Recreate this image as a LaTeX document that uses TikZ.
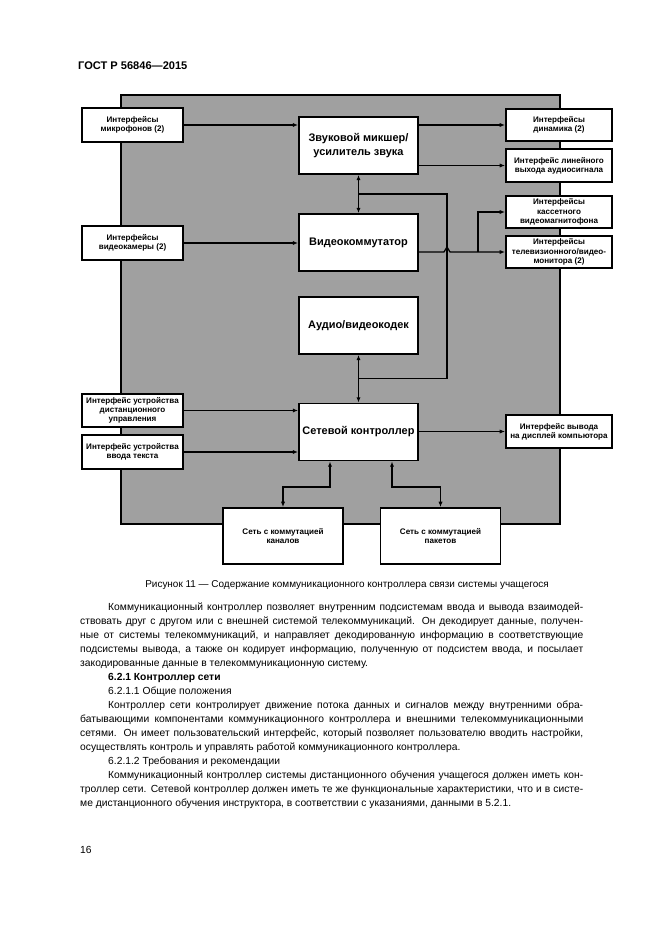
\documentclass[tikz,border=0pt]{standalone}
\usepackage{fontspec}
\setmainfont{Liberation Sans}
\usetikzlibrary{arrows,arrows.meta}
\usetikzlibrary{calc}
\definecolor{grund}{RGB}{160,160,160}

\begin{document}
\begin{tikzpicture}[x=0.3177mm, y=-0.3177mm,
	kasten/.style={draw, rectangle, fill=white, line width=1.7pt, align=center, inner sep=0pt, font=\bfseries\fontsize{7.3}{8.4}\selectfont},
	block/.style={kasten, minimum width=37.8mm, minimum height=18.1mm, font=\bfseries\fontsize{9.9}{12}\selectfont},
	links/.style={kasten, minimum width=32.1mm, minimum height=10.7mm},
	rechts/.style={kasten, minimum width=33.7mm, minimum height=10.4mm},
	netz/.style={kasten, minimum width=38.1mm, minimum height=17.8mm},
	pfeil/.style={line width=1.1pt, -{Latex[length=4.8pt,width=3.8pt]}},
	dpfeil/.style={line width=1.1pt, {Latex[length=4.8pt,width=3.8pt]}-{Latex[length=4.8pt,width=3.8pt]}}]

	\useasboundingbox (0,0) rectangle (661,935);

	% Kopfzeile
	\node[anchor=west, inner sep=0pt, font=\bfseries\fontsize{10}{12}\selectfont] (Kopf) at (78,66) {ГОСТ Р 56846—2015};

	% Hintergrund
	\draw[fill=grund, line width=1.5pt] (121,95) rectangle (560,524);

	% Bloecke Mitte
	\node[block] (Miks) at (358.5,145.5) {Звуковой микшер/\\усилитель звука};
	\node[block] (Vk) at (358.5,242.5) {Видеокоммутатор};
	\node[block] (Kod) at (358.5,325.5) {Аудио/видеокодек};
	\node[block] (Set) at (358.5,432) {Сетевой контроллер};

	% Eingaenge links
	\node[links] (Mikr) at (132.5,125) {Интерфейсы\\микрофонов (2)};
	\node[links] (Kam) at (132.5,243) {Интерфейсы\\видеокамеры (2)};
	\node[links] (Fern) at (132.5,410.5) {Интерфейс устройства\\дистанционного\\управления};
	\node[links] (Tast) at (132.5,452) {Интерфейс устройства\\ввода текста};

	% Ausgaenge rechts
	\node[rechts] (Din) at (559,125) {Интерфейсы\\динамика (2)};
	\node[rechts] (Lin) at (559,165.5) {Интерфейс линейного\\выхода аудиосигнала};
	\node[rechts] (Mag) at (559,212) {Интерфейсы\\кассетного\\видеомагнитофона};
	\node[rechts] (Mon) at (559,252) {Интерфейсы\\телевизионного/видео-\\монитора (2)};
	\node[rechts] (Disp) at (559,431.5) {Интерфейс вывода\\на дисплей компьютора};

	% Netze unten
	\node[netz] (Kan) at (283,536) {Сеть с коммутацией\\каналов};
	\node[netz] (Pak) at (440.5,536) {Сеть с коммутацией\\пакетов};

	% Verbindungen
	\draw[pfeil] (Mikr.east) -- (Mikr.east -| Miks.west);
	\draw[pfeil] (Kam.east) -- (Kam.east -| Vk.west);
	\draw[pfeil] (Fern.east) -- (Fern.east -| Set.west);
	\draw[pfeil] (Tast.east) -- (Tast.east -| Set.west);

	\draw[pfeil] (Din.west -| Miks.east) -- (Din.west);
	\draw[pfeil] (Lin.west -| Miks.east) -- (Lin.west);
	\draw[pfeil] (Disp.west -| Set.east) -- (Disp.west);

	\draw[dpfeil] (Miks.south) -- (Vk.north);
	\draw[dpfeil] (Kod.south) -- (Set.north);

	\coordinate (Bus) at (447,300);
	\coordinate (Abzw) at (478,0);
	\draw[line width=1.1pt] ($(Miks.south)!.5!(Vk.north)$) -| (Bus) |- ($(Kod.south)!.5!(Set.north)$);
	\draw[pfeil] (Mon.west -| Vk.east) -- ($(Bus |- Mon.west)+(-3,0)$) -- ($(Bus |- Mon.west)+(0,-5)$) -- ($(Bus |- Mon.west)+(3,0)$) -- (Mon.west);
	\draw[pfeil] (Abzw |- Mon.west) |- (Mag.west);

	\coordinate (A1) at (330,487);
	\coordinate (A2) at (392,487);
	\draw[dpfeil] (A1 |- Set.south) -- (A1) -| (Kan.north);
	\draw[dpfeil] (A2 |- Set.south) -- (A2) -| (Pak.north);

	% Unterschrift
	\node[inner sep=0pt, font=\fontsize{9}{11}\selectfont] (Titel) at (347,585) {Рисунок 11 — Содержание коммуникационного контроллера связи системы учащегося};

	% Text
	\node[anchor=north west, text width=159.8mm, align=justify, inner sep=0pt, font=\fontsize{9.3}{12.6}\selectfont] (Absatz) at (80,603) {%
		\setlength{\parindent}{8.9mm}\hyphenpenalty=10000\tolerance=10000%
		\indent Коммуникационный контроллер позволяет внутренним подсистемам ввода и вывода взаимодей-\linebreak
		ствовать друг с другом или с внешней системой телекоммуникаций. Он декодирует данные, получен-\linebreak
		ные от системы телекоммуникаций, и направляет декодированную информацию в соответствующие\linebreak
		подсистемы вывода, а также он кодирует информацию, полученную от подсистем ввода, и посылает\linebreak
		закодированные данные в телекоммуникационную систему.\par
		\textbf{6.2.1 Контроллер сети}\par
		6.2.1.1 Общие положения\par
		Контроллер сети контролирует движение потока данных и сигналов между внутренними обра-\linebreak
		батывающими компонентами коммуникационного контроллера и внешними телекоммуникационными\linebreak
		сетями. Он имеет пользовательский интерфейс, который позволяет пользователю вводить настройки,\linebreak
		осуществлять контроль и управлять работой коммуникационного контроллера.\par
		6.2.1.2 Требования и рекомендации\par
		Коммуникационный контроллер системы дистанционного обучения учащегося должен иметь кон-\linebreak
		троллер сети. Сетевой контроллер должен иметь те же функциональные характеристики, что и в систе-\linebreak
		ме дистанционного обучения инструктора, в соответствии с указаниями, данными в 5.2.1.\par};

	% Seitenzahl
	\node[anchor=west, inner sep=0pt, font=\fontsize{9.3}{12}\selectfont] (Seite) at (80,850) {16};

\end{tikzpicture}
\end{document}
